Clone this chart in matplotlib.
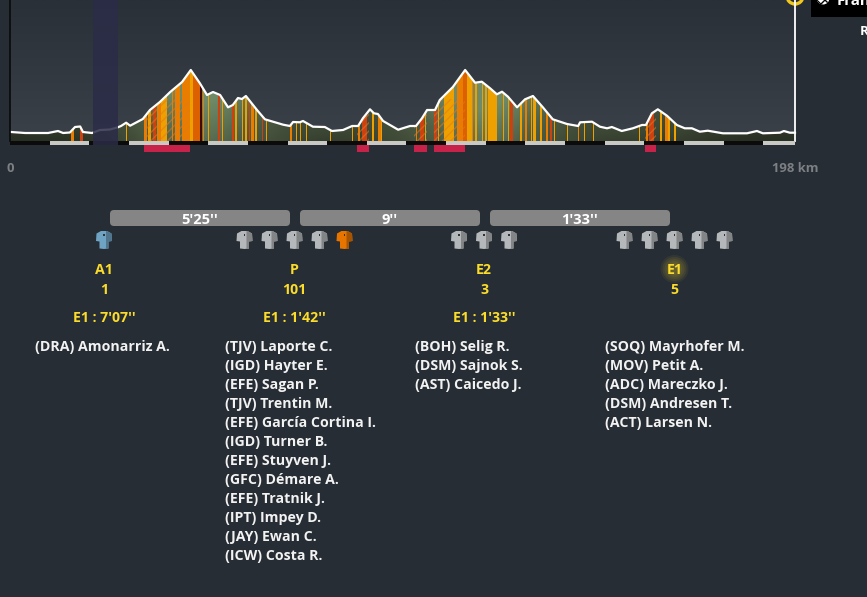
import numpy as np
import matplotlib
matplotlib.use("Agg")
import matplotlib.pyplot as plt
from matplotlib.patches import FancyBboxPatch, Circle, Rectangle, Polygon
from matplotlib.colors import LinearSegmentedColormap

plt.rcParams['font.family'] = ['Open Sans', 'DejaVu Sans']

# ---------- data ----------
km = [0.3,3.8,9.6,12.1,13.4,15.1,16.4,17.7,18.4,20.7,22.7,25.2,27.2,28,29.3,30.3,33.5,35.3,37.8,40.4,43.4,45.6,47.9,49.7,51.2,53,55,56.2,57.5,58.5,59.5,62.3,64.3,68.9,70.6,71.4,73.1,73.9,76.4,79.4,81.2,84,86.3,87.8,89,90.8,91.8,92.8,94.1,97.9,100.9,102.4,103.9,105.2,107.2,108.4,111.7,114.8,117.3,119,121.1,122.8,124.1,125.6,127.9,129.9,131.9,134.4,136.9,140.5,143.3,143.8,146.8,148.8,150.6,151.8,154.3,157.1,159.4,160.4,161.9,163.4,165.7,168.2,170.2,172,174,176,179.8,185.9,188.4,189.9,194.2,195.2,196.7,198]
alt = [9,8,8,10,8,8.5,14,14.5,9,8,11,11.5,13.7,15,18.3,15.3,22,31,39,49,59,71,57.7,46,49,46,33.7,36,43,42,45,31,21.7,16.3,15,19,18.7,20,14.3,14,10,11,15,15,22.7,31.7,27.7,27,20,11.3,15,15,22.7,31,31,41,54,71,58.3,59.3,52.7,46.7,49.3,44.3,33.7,41.7,45,33.7,21.7,17,15,18.7,19.3,14.3,12.7,14,10,12.7,16,16,27.7,31.7,25.3,16,12.7,12.7,9.3,10.3,7.7,7.7,10,7.7,8.3,10,8.3,8.3]

amber = [(29.3,29.6),(34.8,35.6),(37.8,39.6),(41.5,41.8),(43.5,44),(45.4,46.2),(49.9,50.2),(53.4,53.7),(56.7,57.2),(58.4,58.7),(59.3,59.8),(61.8,62.3),(64.5,64.8),(72.1,72.3),(73.1,73.3),(74.6,74.9),(80.7,80.9),(86.2,86.4),(91.3,91.8),(93.6,93.8),(95,95.2),(104.6,104.9),(107.9,108.2),(109.5,112),(114.8,116.8),(117.2,117.8),(119,119.2),(119.8,120.3),(120.6,122.3),(122.3,122.8),(124.3,124.5),(125.6,125.8),(128.6,129.1),(131.4,131.7),(131.9,132.7),(133.7,134.2),(137.2,137.5),(140.5,140.7),(144.8,145),(147,147.3),(158.6,158.8),(163.9,164.4),(166,166.5),(167.5,168)]
orange = [(15.4,16.1),(33.8,34.6),(37.1,38.1),(40.9,41.1),(41.6,42.8),(43.4,45.4),(48.7,48.9),(60.8,61.5),(70.6,71.1),(87.8,88.3),(92.8,93.6),(102.4,102.6),(112.7,114.2),(116.5,116.8),(129.9,130.4),(135.2,135.7),(143.2,143.5),(160.4,160.9),(165.2,166)]
deep = [(46.2,47.9),(114.2,115.3)]
red = [(17.7,18.4),(36.1,36.8),(52.5,53),(56,56.5),(60.3,60.5),(63.6,63.8),(88.8,90),(103.4,104.4),(106.9,107.7),(126.1,126.9),(136.2,136.7),(161.1,162.4)]
dark = [(47.9,48.4)]
climbs = [(33.8,45.4),(87.5,90.5),(101.9,105.2),(106.9,114.8),(160.2,162.9)]
sprint = (20.9,27.3)
km_bands = list(range(10,198,20))

gaps = ["5'25''","9''","1'33''"]
group_labels = ["A1","P","E2","E1"]
group_counts = ["1","101","3","5"]
group_times = ["E1 : 7'07''","E1 : 1'42''","E1 : 1'33''",""]
jerseys = [["#6fa3c4"],["#b4b8ba"]*4+["#e87400"],["#b4b8ba"]*3,["#b4b8ba"]*5]
riders = [
 ["(DRA) Amonarriz A."],
 ["(TJV) Laporte C.","(IGD) Hayter E.","(EFE) Sagan P.","(TJV) Trentin M.","(EFE) García Cortina I.","(IGD) Turner B.","(EFE) Stuyven J.","(GFC) Démare A.","(EFE) Tratnik J.","(IPT) Impey D.","(JAY) Ewan C.","(ICW) Costa R."],
 ["(BOH) Selig R.","(DSM) Sajnok S.","(AST) Caicedo J."],
 ["(SOQ) Mayrhofer M.","(MOV) Petit A.","(ADC) Mareczko J.","(DSM) Andresen T.","(ACT) Larsen N."],
]

# ---------- page ----------
W, H = 867, 597
BG = '#272d34'
YEL = '#fbdc2a'
fig = plt.figure(figsize=(W/100, H/100), dpi=100, facecolor=BG)

# ---------- profile axes ----------
ax = fig.add_axes([10/W, 1-141/H, 785/W, 141/H])
ax.set_xlim(0,198); ax.set_ylim(0,141); ax.axis('off')

bgc = LinearSegmentedColormap.from_list('b',['#3b4148','#2a3037'])
ax.imshow(np.linspace(0,1,100)[:,None], extent=(0,198,0,141), origin='lower', aspect='auto', cmap=bgc, zorder=0)

xs = np.linspace(0,198,800); ys = np.linspace(0,75,150)
prof = np.interp(xs, km, alt)
kernel = np.exp(-0.5*(np.arange(-90,91)/35)**2); kernel/=kernel.sum()
smooth = np.convolve(np.pad(prof,90,mode='edge'), kernel, mode='valid')
shade = 0.7*(smooth[None,:]/42) + 0.42*(ys[:,None]/70)
fillc = LinearSegmentedColormap.from_list('f',['#1a1f17','#3c4634','#505f46','#6f8a66'])
poly_x = [km[0]-0.3]+km+[198]
poly_y = [0]+alt+[0]
clip = Polygon(np.column_stack([poly_x,poly_y]), closed=True, transform=ax.transData, fc='none', ec='none')
ax.add_patch(clip)
im = ax.imshow(shade, extent=(0,198,0,75), origin='lower', aspect='auto', cmap=fillc, vmin=0, vmax=1, zorder=1)
im.set_clip_path(clip)

def stripes(segs, color, a=1.0):
    for s,e in segs:
        r = ax.axvspan(s,e,ymin=0,ymax=1,fc=color,ec='none',alpha=a,zorder=2)
        r.set_clip_path(clip)
stripes(amber,'#eea000'); stripes(orange,'#e87d00'); stripes(deep,'#dc5f00')
stripes(red,'#cc4110'); stripes(dark,'#3a0c04')

plt.rcParams['hatch.linewidth'] = 1.0
for s,e in climbs:
    r = Rectangle((s,0),e-s,42,fc='none',ec='#e8782088',hatch='////',lw=0,zorder=3)
    ax.add_patch(r); r.set_clip_path(clip)

ax.plot(km, alt, color='white', lw=1.6, zorder=4, solid_joinstyle='round', clip_on=False)
ax.plot([0,0],[0,141],color='#0a0a0a',lw=1.2,zorder=5,clip_on=False)
ax.plot([198,198],[0,141],color='white',lw=1.3,zorder=5,clip_on=False)

# km strip and climb markers
ax.add_patch(Rectangle((0,-3.5),198,3.5,fc='#0b0b0b',ec='none',clip_on=False,zorder=5))
for s in km_bands:
    ax.add_patch(Rectangle((s,-3.5),min(10,198-s),3.5,fc='#c8c8c4',ec='none',clip_on=False,zorder=5))
for s,e in climbs:
    ax.add_patch(Rectangle((s,-11),e-s,7.5,fc='#c9224a',ec='none',clip_on=False,zorder=5))
ax.add_patch(Rectangle((sprint[0],-3.5),sprint[1]-sprint[0],144.5,fc='#2b2c48',alpha=0.85,ec='none',clip_on=False,zorder=6))

# ---------- overlay in page units ----------
ov = fig.add_axes([0,0,1,1]); ov.set_xlim(0,W); ov.set_ylim(H,0); ov.axis('off'); ov.patch.set_alpha(0)

def T(x,y,s,color='white',size=10.15,ha='center',w='bold',**k):
    return ov.text(x,y,s,color=color,fontsize=size,ha=ha,va='baseline',fontweight=w,**k)

T(10,172,"0",color='#7c8084',size=9.4)
T(795,172,"198 km",color='#7c8084',size=9.4)

# finish marker and label
ov.add_patch(Circle((795,-4),8,fc='#272d34',ec='#f2c81e',lw=2.4,zorder=3))
ov.plot([795,795],[-4,5],color='white',lw=1.3,zorder=4)
ov.add_patch(Rectangle((811,0),56,17,fc='black',ec='none'))
ov.add_patch(Circle((823,-2),6.5,fc='white',ec='black',hatch='xxxx',lw=0))
T(837,5,"Fran",size=10.8,ha='left')
T(859.5,35,"R",size=9.6,ha='left')

# time gaps
for i,g in enumerate(gaps):
    x0 = 110+190*i
    ov.add_patch(FancyBboxPatch((x0+4,214),172,8,boxstyle='round,pad=4,rounding_size=4',fc='#858585',ec='none'))
    T(x0+90,224,g,size=10.5)

# jersey shape
J = np.array([(-3,-9),(3,-9),(7.5,-6.5),(8,1),(4.5,1.5),(4.5,8.5),(0,9),(-4.5,8.5),(-4.5,1.5),(-8,1),(-7.5,-6.5)])
JR = np.array([(2,-9),(3,-9),(7.5,-6.5),(8,1),(4.5,1.5),(4.5,8.5),(2,8.8)])
centers = [104,294.5,484,674.5]
name_x = [35,225,415,605]
def shade_col(c,f):
    return tuple(f*v for v in matplotlib.colors.to_rgb(c))
for i,(cx,cols) in enumerate(zip(centers,jerseys)):
    n=len(cols)
    for j,c in enumerate(cols):
        x = cx+25*(j-(n-1)/2)
        ov.add_patch(Polygon(J+[x,240],closed=True,fc=c,ec='none'))
        ov.add_patch(Polygon(JR+[x,240],closed=True,fc=shade_col(c,0.72),ec='none'))
        ov.add_patch(Rectangle((x-0.7,233.5),1.2,2.5,fc='#333333',ec='none'))
    T(cx,274,group_labels[i],color=YEL)
    T(cx,294,group_counts[i],color=YEL)
    if group_times[i]:
        T(cx,322,group_times[i],color=YEL)
    for k,name in enumerate(riders[i]):
        T(name_x[i],351+19*k,name,ha='left',color='#f2f2f2')
# halo
for r,a in zip([14,12,10,8,6],[.06,.07,.07,.07,.07]):
    ov.add_patch(Circle((674.5,269),r,fc=YEL,ec='none',alpha=a,zorder=0.5))

fig.savefig('out.png',dpi=100,facecolor=BG)
